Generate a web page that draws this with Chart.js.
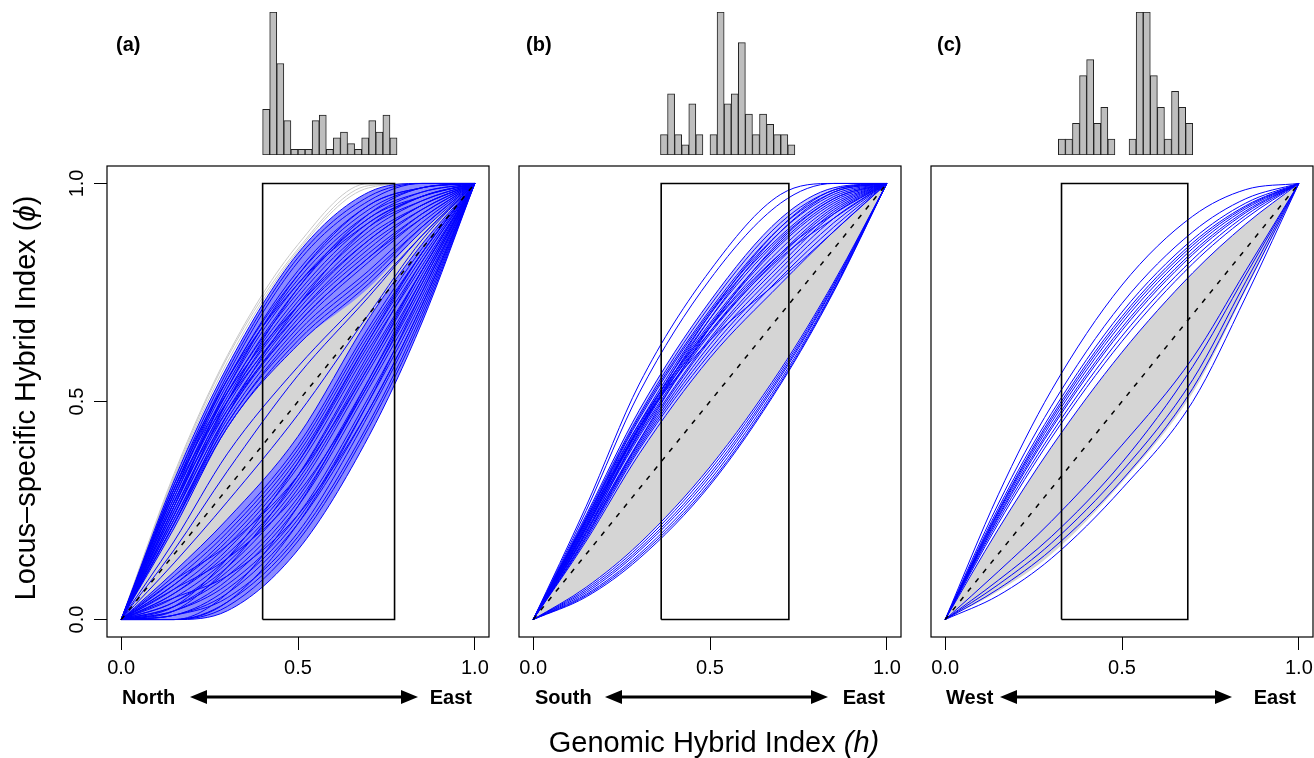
<!DOCTYPE html>
<html>
<head>
<meta charset="utf-8">
<title>Genomic clines</title>
<script src="https://cdn.jsdelivr.net/npm/chart.js@4.4.1/dist/chart.umd.min.js"></script>
<style>
  html, body { margin: 0; padding: 0; background: #fff; }
  body { position: relative; width: 1314px; height: 758px; overflow: hidden;
         font-family: "Liberation Sans", Arial, Helvetica, sans-serif; color: #000; }
  canvas { position: absolute; }
  .txt { position: absolute; white-space: nowrap; line-height: 1; }
  .tag { font-weight: bold; font-size: 20px; transform: translateY(-50%); }
  .dir { font-weight: bold; font-size: 20px; top: 697px; transform: translateY(-50%); }
  .title { font-size: 29px; transform: translate(-50%, -50%); }
  svg { position: absolute; left: 0; top: 0; }
</style>
</head>
<body>
<canvas id="histA" width="436" height="160" style="left:57px;top:0"></canvas>
<canvas id="mainA" width="436" height="527" style="left:57px;top:160px"></canvas>
<canvas id="histB" width="436" height="160" style="left:469px;top:0"></canvas>
<canvas id="mainB" width="436" height="527" style="left:469px;top:160px"></canvas>
<canvas id="histC" width="436" height="160" style="left:881px;top:0"></canvas>
<canvas id="mainC" width="436" height="527" style="left:881px;top:160px"></canvas>

<div class="txt tag" style="left:116px;top:44px">(a)</div>
<div class="txt tag" style="left:526px;top:44px">(b)</div>
<div class="txt tag" style="left:937px;top:44px">(c)</div>

<div class="txt dir" style="left:122px">North</div>
<div class="txt dir" style="right:842px">East</div>
<div class="txt dir" style="left:535px">South</div>
<div class="txt dir" style="right:429px">East</div>
<div class="txt dir" style="left:946px">West</div>
<div class="txt dir" style="right:18px">East</div>

<svg width="1314" height="758">
  <g fill="#000" stroke="#000">
    <line x1="204" y1="697" x2="404" y2="697" stroke-width="3"/>
    <polygon points="190,697 207,690 207,704" stroke="none"/>
    <polygon points="418,697 401,690 401,704" stroke="none"/>
    <line x1="619" y1="697" x2="814" y2="697" stroke-width="3"/>
    <polygon points="605,697 622,690 622,704" stroke="none"/>
    <polygon points="828,697 811,690 811,704" stroke="none"/>
    <line x1="1014" y1="697" x2="1218" y2="697" stroke-width="3"/>
    <polygon points="1000,697 1017,690 1017,704" stroke="none"/>
    <polygon points="1232,697 1215,690 1215,704" stroke="none"/>
  </g>
</svg>

<div class="txt title" style="left:25px;top:398px;transform:translate(-50%,-50%) rotate(-90deg)">Locus&ndash;specific Hybrid Index (<i>&#981;</i>)</div>
<div class="txt title" style="left:714px;top:742px">Genomic Hybrid Index <i>(h)</i></div>

<script>
const hGrid = [0, 0.15, 0.3, 0.5, 0.7, 0.85, 1];
const axisTicks = [0, 0.5, 1];
const binWidth = 0.02;

// ---- (a) North x East ----
const histStartA = 0.40;
const histCountsA = [8, 25, 16, 6, 1, 1, 1, 6, 7, 1, 3, 4, 2, 1, 3, 6, 4, 7, 3];
const rangeA = [0.400, 0.773];
const lensHiA = [0.21, 0.44, 0.63, 0.76, 0.89];
const lensLoA = [0.11, 0.23, 0.42, 0.69, 0.86];
const upperA = [
  [0.32, 0.58, 0.84, 0.98, 1.00], [0.31, 0.57, 0.83, 0.97, 1.00], [0.30, 0.56, 0.82, 0.96, 1.00],
  [0.30, 0.55, 0.80, 0.95, 0.99], [0.29, 0.55, 0.79, 0.94, 0.99], [0.29, 0.54, 0.78, 0.93, 0.98],
  [0.28, 0.53, 0.77, 0.92, 0.98], [0.28, 0.52, 0.76, 0.92, 0.97], [0.27, 0.52, 0.75, 0.91, 0.97],
  [0.27, 0.51, 0.74, 0.90, 0.96], [0.26, 0.50, 0.73, 0.89, 0.96], [0.26, 0.50, 0.72, 0.88, 0.95],
  [0.25, 0.49, 0.71, 0.87, 0.95], [0.25, 0.48, 0.70, 0.86, 0.94], [0.24, 0.47, 0.69, 0.84, 0.93],
  [0.24, 0.47, 0.68, 0.83, 0.93], [0.23, 0.46, 0.67, 0.82, 0.92], [0.23, 0.45, 0.66, 0.80, 0.91],
  [0.22, 0.45, 0.65, 0.79, 0.90], [0.22, 0.44, 0.64, 0.78, 0.90], [0.21, 0.44, 0.63, 0.77, 0.89],
  [0.30, 0.52, 0.72, 0.87, 0.95], [0.26, 0.53, 0.79, 0.95, 0.99], [0.24, 0.50, 0.76, 0.93, 0.99],
  [0.29, 0.50, 0.70, 0.85, 0.94], [0.22, 0.47, 0.72, 0.90, 0.97], [0.27, 0.48, 0.68, 0.83, 0.92],
  [0.31, 0.55, 0.77, 0.91, 0.97]
];
const lowerA = [
  [0.00, 0.02, 0.16, 0.42, 0.68], [0.00, 0.03, 0.18, 0.44, 0.69], [0.00, 0.04, 0.19, 0.45, 0.70],
  [0.01, 0.05, 0.20, 0.47, 0.71], [0.01, 0.06, 0.22, 0.48, 0.72], [0.01, 0.07, 0.23, 0.50, 0.73],
  [0.02, 0.08, 0.24, 0.51, 0.74], [0.02, 0.09, 0.26, 0.53, 0.75], [0.03, 0.10, 0.27, 0.54, 0.76],
  [0.03, 0.11, 0.28, 0.55, 0.77], [0.04, 0.12, 0.30, 0.57, 0.78], [0.04, 0.13, 0.31, 0.58, 0.79],
  [0.05, 0.14, 0.32, 0.59, 0.80], [0.06, 0.15, 0.33, 0.60, 0.80], [0.06, 0.16, 0.35, 0.62, 0.81],
  [0.07, 0.17, 0.36, 0.63, 0.82], [0.08, 0.18, 0.37, 0.64, 0.83], [0.08, 0.19, 0.38, 0.65, 0.84],
  [0.09, 0.20, 0.39, 0.66, 0.84], [0.10, 0.21, 0.40, 0.67, 0.85], [0.11, 0.23, 0.42, 0.69, 0.86],
  [0.00, 0.06, 0.26, 0.55, 0.78], [0.05, 0.10, 0.24, 0.48, 0.72], [0.02, 0.12, 0.33, 0.61, 0.82],
  [0.07, 0.14, 0.29, 0.54, 0.77], [0.00, 0.04, 0.22, 0.50, 0.75], [0.09, 0.17, 0.33, 0.58, 0.80],
  [0.03, 0.14, 0.36, 0.64, 0.84]
];
const crossA = [[0.16, 0.34, 0.56, 0.74, 0.88], [0.13, 0.27, 0.47, 0.70, 0.87], [0.18, 0.38, 0.58, 0.75, 0.88]];
const greyA = [[0.335, 0.605, 0.86, 1.0, 1.0], [0.33, 0.60, 0.85, 0.995, 1.0], [0.325, 0.59, 0.845, 0.99, 1.0]];

// ---- (b) South x East ----
const histStartB = 0.36;
const histCountsB = [2, 6, 2, 1, 5, 2, 0, 2, 14, 5, 6, 11, 4, 2, 4, 3, 2, 2, 1];
const rangeB = [0.362, 0.723];
const lensHiB = [0.18, 0.38, 0.60, 0.77, 0.89];
const lensLoB = [0.074, 0.174, 0.35, 0.574, 0.774];
const upperB = [
  [0.24, 0.48, 0.73, 0.92, 0.99], [0.235, 0.47, 0.72, 0.91, 0.985], [0.23, 0.465, 0.71, 0.90, 0.98],
  [0.23, 0.46, 0.705, 0.89, 0.975], [0.225, 0.45, 0.70, 0.88, 0.97], [0.22, 0.445, 0.69, 0.875, 0.965],
  [0.22, 0.44, 0.68, 0.865, 0.96], [0.215, 0.435, 0.675, 0.86, 0.955], [0.21, 0.43, 0.67, 0.85, 0.95],
  [0.21, 0.425, 0.66, 0.84, 0.945], [0.205, 0.42, 0.655, 0.835, 0.94], [0.20, 0.41, 0.645, 0.825, 0.935],
  [0.20, 0.405, 0.64, 0.815, 0.93], [0.195, 0.40, 0.63, 0.805, 0.92], [0.19, 0.395, 0.62, 0.795, 0.91],
  [0.185, 0.39, 0.61, 0.785, 0.90], [0.18, 0.38, 0.60, 0.77, 0.89], [0.23, 0.45, 0.67, 0.84, 0.93],
  [0.20, 0.43, 0.69, 0.89, 0.98], [0.215, 0.44, 0.70, 0.90, 0.985], [0.225, 0.44, 0.66, 0.83, 0.92],
  [0.19, 0.41, 0.67, 0.87, 0.965]
];
const outerB = [[0.26, 0.54, 0.80, 0.975, 1.0], [0.25, 0.52, 0.78, 0.955, 1.0]];
const crossB = [[0.21, 0.44, 0.64, 0.78, 0.89]];
const lowerB = [
  [0.074, 0.174, 0.35, 0.574, 0.774], [0.07, 0.168, 0.343, 0.568, 0.77], [0.066, 0.162, 0.335, 0.562, 0.766],
  [0.062, 0.157, 0.328, 0.557, 0.763], [0.058, 0.15, 0.32, 0.55, 0.758], [0.055, 0.145, 0.313, 0.544, 0.755],
  [0.052, 0.14, 0.308, 0.54, 0.752]
];

// ---- (c) West x East ----
const histStartC = 0.32;
const histCountsC = [1, 1, 2, 5, 6, 2, 3, 1, 0, 0, 1, 9, 9, 5, 3, 1, 4, 3, 2];
const rangeC = [0.329, 0.686];
const lensHiC = [0.207, 0.395, 0.613, 0.795, 0.907];
const lensLoC = [0.065, 0.15, 0.315, 0.52, 0.755];
const upperC = [
  [0.286, 0.525, 0.767, 0.925, 0.986], [0.265, 0.489, 0.725, 0.889, 0.965], [0.255, 0.472, 0.705, 0.872, 0.955],
  [0.249, 0.464, 0.695, 0.864, 0.949], [0.246, 0.458, 0.688, 0.858, 0.946], [0.242, 0.451, 0.68, 0.851, 0.942],
  [0.237, 0.443, 0.67, 0.843, 0.937], [0.233, 0.437, 0.663, 0.837, 0.933], [0.227, 0.426, 0.65, 0.826, 0.927],
  [0.22, 0.416, 0.638, 0.816, 0.92], [0.207, 0.395, 0.613, 0.795, 0.907]
];
const lowerC = [
  [0.055, 0.14, 0.30, 0.50, 0.74], [0.07, 0.16, 0.32, 0.53, 0.76], [0.08, 0.175, 0.34, 0.55, 0.775],
  [0.09, 0.19, 0.36, 0.58, 0.79], [0.11, 0.225, 0.40, 0.60, 0.80]
];

Chart.defaults.font.family = '"Liberation Sans", Arial, sans-serif';

const BLUE = '#0000ff';
const GREY = '#d5d5d5';

function toPoints(vals) {
  const ys = [0, ...vals, 1];
  return hGrid.map((h, i) => ({ x: h, y: ys[i] }));
}

function curve(vals, color, order) {
  return { data: toPoints(vals), borderColor: color, borderWidth: 1, pointRadius: 0,
           cubicInterpolationMode: 'monotone', fill: false, order };
}

// two invisible edges with the area between them filled
function area(ds, a, b, color, order) {
  ds.push({ data: toPoints(a), borderColor: 'rgba(0,0,0,0)', borderWidth: 1, pointRadius: 0,
            cubicInterpolationMode: 'monotone', fill: '+1', backgroundColor: color, order });
  ds.push({ data: toPoints(b), borderColor: 'rgba(0,0,0,0)', borderWidth: 1, pointRadius: 0,
            cubicInterpolationMode: 'monotone', fill: false, order });
}

function extras(ds, range) {
  ds.push({ data: [{ x: 0, y: 0 }, { x: 1, y: 1 }], borderColor: '#000', borderWidth: 1.5,
            borderDash: [5, 7], pointRadius: 0, fill: false, order: 2 });
  ds.push({ data: [{ x: range[0], y: 0 }, { x: range[0], y: 1 }, { x: range[1], y: 1 },
                   { x: range[1], y: 0 }, { x: range[0], y: 0 }],
            borderColor: '#000', borderWidth: 1.6, pointRadius: 0, fill: false, order: 1 });
}

const framePlugin = {
  id: 'frame',
  afterDatasetsDraw(chart) {
    const { ctx, chartArea: a } = chart;
    ctx.save();
    ctx.strokeStyle = '#000';
    ctx.lineWidth = 1.2;
    ctx.strokeRect(a.left, a.top, a.right - a.left, a.bottom - a.top);
    ctx.restore();
  }
};

function setTicks(s) { s.ticks = axisTicks.map(v => ({ value: v })); }

function mainChart(id, datasets, showY) {
  return new Chart(document.getElementById(id), {
    type: 'line',
    data: { datasets },
    plugins: [framePlugin],
    options: {
      responsive: false, animation: false, events: [],
      layout: { padding: { left: showY ? 0 : 50, right: 4, top: 6, bottom: 0 } },
      plugins: { legend: { display: false }, tooltip: { enabled: false } },
      scales: {
        x: {
          type: 'linear', min: -0.04, max: 1.04,
          afterBuildTicks: setTicks,
          afterFit: s => { s.height = 50; s.paddingLeft = 0; s.paddingRight = 0; },
          border: { display: false },
          grid: { drawOnChartArea: false, drawTicks: true, tickLength: 13, color: '#000', lineWidth: 1 },
          ticks: { padding: 6, color: '#000', font: { size: 20 }, autoSkip: false,
                   minRotation: 0, maxRotation: 0, callback: v => v.toFixed(1) }
        },
        y: {
          type: 'linear', min: -0.04, max: 1.04, display: showY,
          afterBuildTicks: setTicks,
          afterFit: s => { s.width = showY ? 50 : 0; s.paddingTop = 0; s.paddingBottom = 0; },
          border: { display: false },
          grid: { drawOnChartArea: false, drawTicks: true, tickLength: 13, color: '#000', lineWidth: 1 },
          ticks: { padding: 3, crossAlign: 'center', minRotation: 90, maxRotation: 90, color: '#000',
                   font: { size: 20 }, autoSkip: false, callback: v => v.toFixed(1) }
        }
      }
    }
  });
}

function histChart(id, start, counts) {
  return new Chart(document.getElementById(id), {
    type: 'bar',
    data: {
      datasets: [{
        data: counts.map((c, i) => ({ x: start + (i + 0.5) * binWidth, y: c || null })),
        backgroundColor: '#bebebe', borderColor: '#222', borderWidth: 1, borderSkipped: false,
        barPercentage: 1, categoryPercentage: 1
      }]
    },
    options: {
      responsive: false, animation: false, events: [],
      layout: { padding: { left: 50, right: 4, top: 12, bottom: 5 } },
      plugins: { legend: { display: false }, tooltip: { enabled: false } },
      scales: {
        x: { type: 'linear', min: -0.04, max: 1.04, offset: false, display: false },
        y: { min: 0, max: Math.max(...counts), display: false }
      }
    }
  });
}

// (a)
const dsA = [];
area(dsA, lensHiA, lensLoA, GREY, 50);
area(dsA, upperA[0], lensHiA, 'rgba(0,0,255,0.45)', 40);
area(dsA, lensLoA, lowerA[0], 'rgba(0,0,255,0.45)', 40);
greyA.forEach(v => dsA.push(curve(v, '#c8c8c8', 30)));
upperA.forEach(v => dsA.push(curve(v, BLUE, 20)));
lowerA.forEach(v => dsA.push(curve(v, BLUE, 20)));
crossA.forEach(v => dsA.push(curve(v, BLUE, 20)));
extras(dsA, rangeA);

// (b)
const dsB = [];
area(dsB, lensHiB, lensLoB, GREY, 50);
area(dsB, upperB[0], lensHiB, 'rgba(0,0,255,0.2)', 40);
upperB.forEach(v => dsB.push(curve(v, BLUE, 20)));
outerB.forEach(v => dsB.push(curve(v, BLUE, 20)));
crossB.forEach(v => dsB.push(curve(v, BLUE, 20)));
lowerB.forEach(v => dsB.push(curve(v, BLUE, 20)));
extras(dsB, rangeB);

// (c)
const dsC = [];
area(dsC, lensHiC, lensLoC, GREY, 50);
upperC.forEach(v => dsC.push(curve(v, BLUE, 20)));
lowerC.forEach(v => dsC.push(curve(v, BLUE, 20)));
extras(dsC, rangeC);

mainChart('mainA', dsA, true);
mainChart('mainB', dsB, false);
mainChart('mainC', dsC, false);

histChart('histA', histStartA, histCountsA);
histChart('histB', histStartB, histCountsB);
histChart('histC', histStartC, histCountsC);
</script>
</body>
</html>
